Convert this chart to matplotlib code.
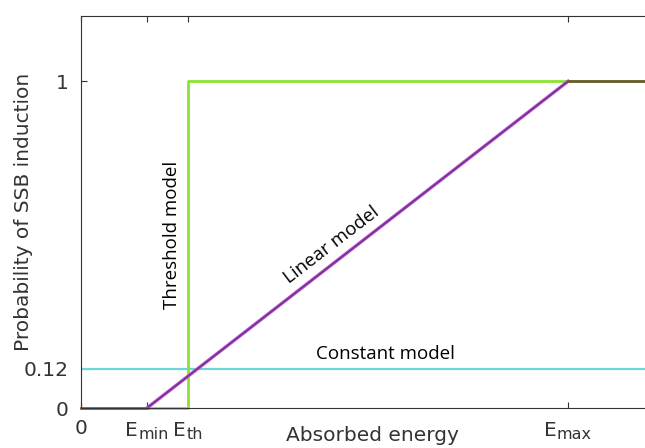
import matplotlib.pyplot as plt
import numpy as np

plt.rcParams['font.family'] = ['DejaVu Sans']

# energies (arbitrary units, E_max = 1)
e_min = 0.1355
e_th = 0.2197
e_max = 1.0
x_end = 1.195

p_const = 0.12

thr_x = [0, e_th, e_th, x_end]
thr_y = [0, 0, 1, 1]
lin_x = [e_min, e_max]
lin_y = [0, 1]
low_x = [0, e_min]
low_y = [0, 0]
high_x = [e_max, x_end]
high_y = [1, 1]

xtick_pos = [0, e_min, e_th, e_max]
e_subs = ['min', 'th', 'max']

fig = plt.figure(figsize=(6.45, 4.48), dpi=100)
ax = fig.add_axes([81 / 645, 40 / 448, 582 / 645, 392 / 448])

ax.plot([0, x_end], [p_const, p_const], color='#6fd6d8', lw=1.6)
ax.plot(thr_x, thr_y, color='#8ae234', lw=2.0, clip_on=False)
ax.plot(lin_x, lin_y, color='#b04ed0', lw=2.4)
ax.plot(lin_x, lin_y, color='#6a2a7a', lw=0.8)
ax.plot(low_x, low_y, color='#b85a28', lw=2.0, clip_on=False)
ax.plot(high_x, high_y, color='#6e5a3a', lw=2.0)

ax.set_xlim(0, x_end)
ax.set_ylim(0, 1.2)
ax.set_xticks(xtick_pos)
ax.set_xticklabels(['0', '', '', ''])
ax.set_yticks([0, p_const, 1])
ax.set_yticklabels(['0', '0.12', '1'])
ax.tick_params(direction='in', length=4, top=True, right=False, labelsize=14.5, colors='#333333', pad=8)
ax.tick_params(axis='y', pad=9)
ax.spines['right'].set_visible(False)
for s in ['left', 'top', 'bottom']:
    ax.spines[s].set_color('#333333')

# E_xxx tick labels with large subscripts
fig.canvas.draw()
rend = fig.canvas.get_renderer()
for x, sub in zip(xtick_pos[1:], e_subs):
    t1 = ax.annotate('E', xy=(x, 0), xycoords=('data', 'axes fraction'), xytext=(0, -9),
                     textcoords='offset points', ha='right', va='top', fontsize=14.5, color='#333333')
    t2 = ax.annotate(sub, xy=(x, 0), xycoords=('data', 'axes fraction'), xytext=(0, -14),
                     textcoords='offset points', ha='left', va='top', fontsize=11.5, color='#333333')
    w1 = t1.get_window_extent(rend).width
    w2 = t2.get_window_extent(rend).width
    shift = (w1 - w2) / 2 * 72 / fig.dpi
    t1.set_position((shift, -9))
    t2.set_position((shift, -14))

ax.set_xlabel('Absorbed energy', fontsize=14.5, color='#333333')
ax.xaxis.set_label_coords(0.5, -0.045)
ax.set_ylabel('Probability of SSB induction', fontsize=14.5, color='#333333')
ax.yaxis.set_label_coords(-0.083, 0.5)

ax.text(0.187, 0.53, 'Threshold model', rotation=90, ha='center', va='center',
        fontsize=13.5, family='Open Sans')
ax.text(0.515, 0.5, 'Linear model', rotation=37.5, ha='center', va='center',
        fontsize=13.5, family='Open Sans', rotation_mode='anchor')
ax.text(0.626, 0.165, 'Constant model', ha='center', va='center',
        fontsize=13.5, family='Open Sans')

plt.savefig('out.png', dpi=100)
